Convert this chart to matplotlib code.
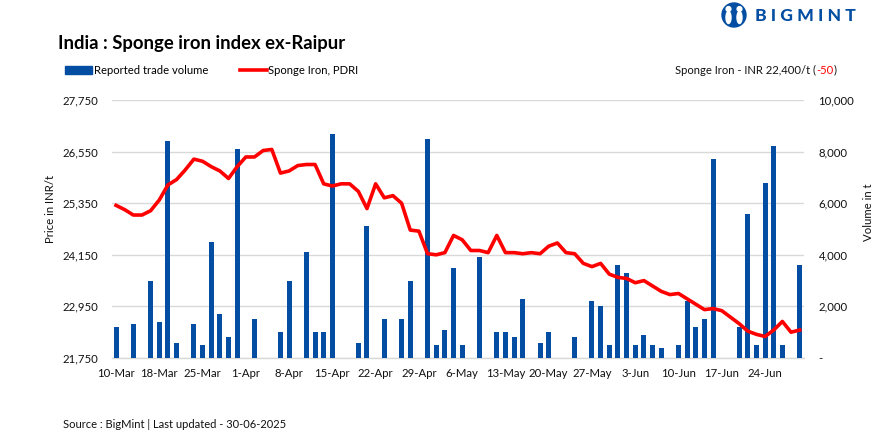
import matplotlib
matplotlib.use("Agg")
import matplotlib.pyplot as plt
from matplotlib.patches import Circle, Ellipse, Rectangle
from matplotlib.lines import Line2D
from matplotlib.ticker import FuncFormatter

plt.rcParams['font.family'] = ['Lato', 'DejaVu Sans']

W, H = 891, 438
BLUE = '#034EA2'
RED = '#FF0000'

tick_labels = ['10-Mar', '18-Mar', '25-Mar', '1-Apr', '8-Apr', '15-Apr', '22-Apr', '29-Apr',
               '6-May', '13-May', '20-May', '27-May', '3-Jun', '10-Jun', '17-Jun', '24-Jun']

price = [25300, 25200, 25075, 25075, 25175, 25425, 25775, 25900, 26125, 26375,
         26325, 26200, 26100, 25925, 26200, 26425, 26425, 26575, 26600, 26050,
         26100, 26225, 26250, 26250, 25800, 25750, 25800, 25800, 25625, 25225,
         25800, 25475, 25525, 25350, 24725, 24700, 24175, 24150, 24200, 24600,
         24500, 24250, 24250, 24200, 24600, 24200, 24200, 24175, 24200, 24175,
         24350, 24425, 24200, 24175, 23950, 23875, 23950, 23700, 23625, 23600,
         23500, 23550, 23425, 23300, 23225, 23250, 23125, 23000, 22875, 22900,
         22850, 22700, 22550, 22375, 22300, 22250, 22400, 22600, 22350, 22400]

volume = [1200, 0, 1300, 0, 3000, 1400, 8400, 600, 0, 1300,
          500, 4500, 1700, 800, 8100, 0, 1500, 0, 0, 1000,
          3000, 0, 4100, 1000, 1000, 8700, 0, 0, 600, 5100,
          0, 1500, 0, 1500, 3000, 0, 8500, 500, 1100, 3500,
          500, 0, 3900, 0, 1000, 1000, 800, 2300, 0, 600,
          1000, 0, 0, 800, 0, 2200, 2000, 500, 3600, 3300,
          500, 900, 500, 400, 0, 500, 2200, 1200, 1500, 7700,
          0, 0, 1200, 5600, 500, 6800, 8200, 500, 0, 3600]

price_ticks = [21750, 22950, 24150, 25350, 26550, 27750]
volume_ticks = [0, 2000, 4000, 6000, 8000, 10000]

fig = plt.figure(figsize=(W / 100, H / 100), dpi=100, facecolor='white')
L, R, T, B = 111.7, 804, 100, 358
ax2 = fig.add_axes([L / W, 1 - B / H, (R - L) / W, (B - T) / H])
ax = ax2.twinx()
ax.set_zorder(ax2.get_zorder() + 1)
ax.patch.set_visible(False)

x = list(range(len(price)))
bars = ax2.bar(x, volume, width=0.58, color=BLUE, zorder=3, label='Reported trade volume')
line, = ax.plot(x, price, color=RED, lw=2.6, solid_joinstyle='round', label='Sponge Iron, PDRI')

ax.set_xlim(-0.5, len(x) - 0.5)
ax2.set_xlim(-0.5, len(x) - 0.5)
ax.set_ylim(price_ticks[0], price_ticks[-1])
ax2.set_ylim(volume_ticks[0], volume_ticks[-1])

# left axis shows price, right axis shows volume
ax.yaxis.tick_left()
ax2.yaxis.tick_right()
ax.set_yticks(price_ticks)
ax2.set_yticks(volume_ticks)
ax.yaxis.set_major_formatter(FuncFormatter(lambda v, p: f'{v:,.0f}'))
ax2.yaxis.set_major_formatter(FuncFormatter(lambda v, p: '-' if v == 0 else f'{v:,.0f}'))
ax2.set_xticks(x[::5])
ax2.set_xticklabels(tick_labels)
ax.tick_params(axis='x', bottom=False, labelbottom=False)
ax2.tick_params(axis='x', length=0, labelsize=8.2, pad=7, colors='#111111')
ax.tick_params(axis='y', length=0, labelsize=8.2, pad=9.5, colors='#111111')
ax2.tick_params(axis='y', length=0, labelsize=8.2, pad=10.5, colors='#111111')

ax2.grid(axis='y', color='#D9D9D9', lw=1.0, zorder=0)
ax2.set_axisbelow(True)
for a in (ax, ax2):
    for s in a.spines.values():
        s.set_visible(False)
ax2.spines['bottom'].set_visible(True)
ax2.spines['bottom'].set_color('#D9D9D9')
ax2.spines['bottom'].set_linewidth(1.0)

fig.text(50 / W, 1 - 208.5 / H, 'Price in INR/t', rotation=90, ha='center', va='center',
         fontsize=8.2, color='#111111')
fig.text(868 / W, 1 - 212 / H, 'Volume in t', rotation=90, ha='center', va='center',
         fontsize=8.2, color='#111111')

fig.text(58 / W, 1 - 43 / H, 'India : Sponge iron index ex-Raipur', fontsize=13.3,
         fontweight='bold', ha='left', va='center', color='black')

handles = [Rectangle((0, 0), 1, 1, color=BLUE), Line2D([0], [0], color=RED, lw=2.6)]
fig.legend(handles, ['Reported trade volume', 'Sponge Iron, PDRI'], ncol=2, frameon=False,
           loc='center left', bbox_to_anchor=(65 / W, 1 - 70.5 / H), borderaxespad=0, borderpad=0,
           handlelength=2.4, handleheight=0.75, handletextpad=0.15, columnspacing=2.8,
           prop={'size': 8.1})

t1 = fig.text(675 / W, 1 - 70 / H, 'Sponge Iron - INR 22,400/t (', fontsize=8.1, ha='left',
              va='center', color='#111111')
fig.canvas.draw()
bb = t1.get_window_extent()
t2 = fig.text(bb.x1 / W, 1 - 70 / H, '-50', fontsize=8.1, ha='left', va='center', color=RED)
bb2 = t2.get_window_extent()
fig.text(bb2.x1 / W, 1 - 70 / H, ')', fontsize=8.1, ha='left', va='center', color='#111111')

fig.text(63 / W, 1 - 424 / H, 'Source : BigMint | Last updated - 30-06-2025', fontsize=8.0,
         ha='left', va='center', color='#111111')

# logo
overlay = fig.add_axes([0, 0, 1, 1], zorder=10)
overlay.set_xlim(0, W)
overlay.set_ylim(H, 0)
overlay.axis('off')
overlay.add_patch(Circle((734, 15), 12, color=BLUE))
for cx in (728.5, 739.5):
    overlay.add_patch(Ellipse((cx, 17.5), 5, 12, color='white'))
    overlay.add_patch(Circle((cx, 9), 2.4, color='white'))
overlay.add_patch(Ellipse((734, 20), 2.5, 11, color=BLUE))
fig.text(755 / W, 1 - 16 / H, 'B I G M I N T', fontsize=12.6, fontweight='black', color=BLUE,
         ha='left', va='center')

fig.savefig('out.png', dpi=100, facecolor='white')
